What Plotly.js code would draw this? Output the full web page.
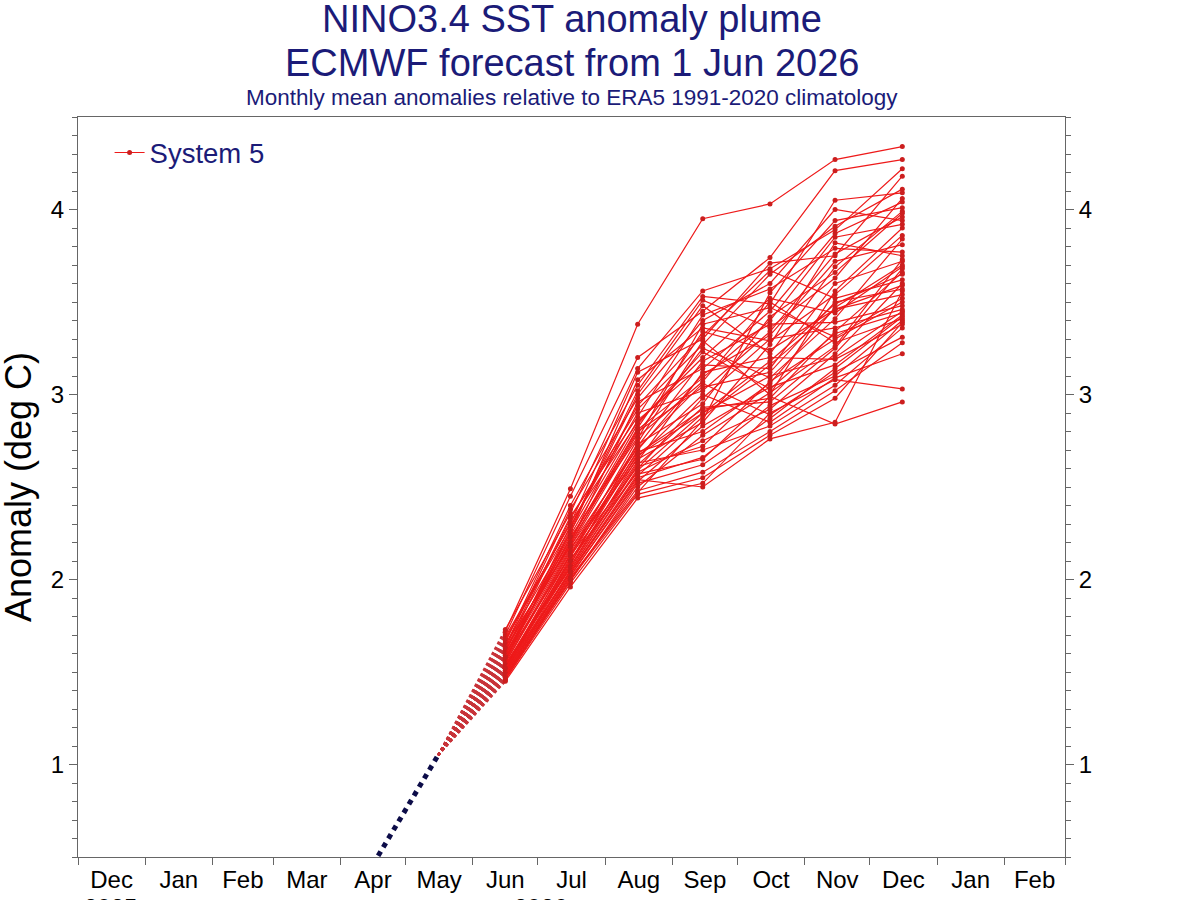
<!DOCTYPE html>
<html>
<head>
<meta charset="utf-8">
<script src="https://cdn.plot.ly/plotly-3.0.1.min.js"></script>
<style>
html,body{margin:0;padding:0;background:#fff;}
#chart{width:1200px;height:900px;}
</style>
</head>
<body>
<div id="chart"></div>
<script>
// ---- Data ----
const forecastMonths = ["2026-06-16","2026-07-16","2026-08-16","2026-09-15","2026-10-16","2026-11-15","2026-12-16"];
const obsMonths = ["2026-04-16","2026-05-16"];
const obsValues = [0.46, 1.05];
const legendName = "System 5";
const titleLine1 = "NINO3.4 SST anomaly plume";
const titleLine2 = "ECMWF forecast from 1 Jun 2026";
const titleLine3 = "Monthly mean anomalies relative to ERA5 1991-2020 climatology";
const yTitle = "Anomaly (deg C)";
const yearLabels = ["2025","2026"];
const yearPositions = ["2025-12-16","2026-07-02"];

// Ensemble members: Jun, Jul, Aug, Sep, Oct, Nov, Dec
const members = [
  [1.72, 2.49, 3.38, 3.95, 4.03, 4.27, 4.34],
  [1.70, 2.45, 3.20, 3.45, 3.74, 4.21, 4.27],
  [1.73, 2.36, 3.14, 3.56, 3.68, 3.89, 4.22],
  [1.66, 2.40, 3.05, 3.53, 3.49, 4.05, 4.09],
  [1.69, 2.30, 3.12, 3.30, 3.71, 3.75, 4.18],
  [1.64, 2.38, 2.98, 3.40, 3.60, 4.00, 3.94],
  [1.68, 2.28, 3.02, 3.51, 3.36, 3.63, 4.06],
  [1.61, 2.33, 2.92, 3.27, 3.65, 3.91, 4.11],
  [1.65, 2.25, 3.08, 3.36, 3.29, 3.54, 3.86],
  [1.63, 2.34, 2.88, 3.43, 3.57, 3.79, 3.77],
  [1.60, 2.20, 2.96, 3.14, 3.45, 3.87, 4.04],
  [1.67, 2.31, 2.85, 3.20, 3.52, 3.44, 3.69],
  [1.59, 2.27, 3.00, 3.48, 3.22, 3.69, 3.99],
  [1.62, 2.22, 2.81, 3.09, 3.40, 3.85, 3.92],
  [1.57, 2.29, 2.94, 3.32, 3.67, 3.52, 3.62],
  [1.65, 2.18, 2.79, 3.25, 3.09, 3.41, 3.84],
  [1.56, 2.26, 2.90, 3.02, 3.34, 3.76, 3.96],
  [1.58, 2.13, 2.76, 3.38, 3.47, 3.31, 3.52],
  [1.61, 2.24, 2.86, 3.16, 3.14, 3.60, 3.72],
  [1.55, 2.16, 2.73, 2.95, 3.42, 3.66, 3.98],
  [1.63, 2.21, 2.84, 3.23, 3.03, 3.33, 3.44],
  [1.54, 2.10, 2.70, 3.11, 3.32, 3.72, 3.81],
  [1.60, 2.19, 2.82, 3.34, 3.24, 3.46, 3.59],
  [1.52, 2.14, 2.67, 2.90, 3.18, 3.49, 3.65],
  [1.57, 2.23, 2.77, 3.07, 3.50, 3.28, 3.41],
  [1.53, 2.08, 2.74, 3.29, 3.00, 3.56, 3.90],
  [1.56, 2.17, 2.65, 2.85, 3.27, 3.82, 3.75],
  [1.50, 2.12, 2.72, 3.18, 3.38, 3.39, 3.48],
  [1.54, 2.06, 2.62, 2.93, 2.96, 3.25, 3.68],
  [1.59, 2.20, 2.80, 3.04, 3.12, 3.50, 3.57],
  [1.51, 2.09, 2.64, 3.12, 3.20, 3.19, 3.38],
  [1.55, 2.15, 2.69, 2.80, 3.06, 3.47, 3.70],
  [1.49, 2.05, 2.60, 2.98, 3.30, 3.36, 3.46],
  [1.52, 2.11, 2.58, 2.75, 2.92, 3.22, 3.60],
  [1.58, 2.18, 2.71, 3.06, 2.89, 3.12, 3.31],
  [1.48, 2.03, 2.56, 2.88, 3.16, 3.46, 3.54],
  [1.50, 2.07, 2.66, 3.00, 2.85, 3.09, 3.22],
  [1.53, 2.13, 2.61, 2.72, 3.07, 3.30, 3.50],
  [1.47, 2.02, 2.53, 2.83, 3.04, 3.16, 3.43],
  [1.51, 2.10, 2.68, 2.92, 2.98, 3.34, 3.66],
  [1.49, 2.04, 2.55, 2.66, 2.94, 3.10, 3.40],
  [1.46, 2.00, 2.50, 2.78, 3.01, 3.26, 3.73],
  [1.54, 2.07, 2.63, 2.70, 2.83, 3.05, 3.36],
  [1.48, 1.99, 2.52, 2.62, 2.87, 3.14, 3.42],
  [1.47, 2.01, 2.48, 2.58, 2.80, 3.02, 3.28],
  [1.50, 2.05, 2.59, 2.90, 3.10, 3.20, 3.45],
  [1.46, 1.98, 2.46, 2.55, 2.78, 2.98, 3.39],
  [1.45, 1.96, 2.44, 2.52, 2.90, 3.08, 3.03],
  [1.49, 2.02, 2.54, 2.50, 2.76, 2.85, 3.56],
  [1.52, 2.04, 2.57, 2.65, 2.99, 2.84, 2.96],
  [1.47, 2.00, 2.47, 2.86, 3.55, 3.94, 4.01]
];

// ---- Styles ----
const navy = "#1b1b78";
const lineRed = "#ee1a1a";
const markRed = "#cc1e1e";
const axisGrey = "#666666";
const fontFam = "Liberation Sans, Arial, Helvetica, sans-serif";

const traces = [];

// dotted connectors from last observed month to first forecast month
const cx = [], cy = [];
members.forEach(m => {
  cx.push(obsMonths[1], forecastMonths[0], null);
  cy.push(obsValues[1], m[0], null);
});
traces.push({
  x: cx, y: cy, mode: "lines", type: "scatter",
  line: {color: "#c8343a", width: 2, dash: "dot"},
  showlegend: false, hoverinfo: "skip", connectgaps: false
});

// observed
traces.push({
  x: obsMonths, y: obsValues, mode: "lines", type: "scatter",
  line: {color: "#0c0c48", width: 5, dash: "dot"},
  showlegend: false, hoverinfo: "skip"
});

// same observed values on the right-hand axis (invisible) so that axis is drawn
traces.push({
  x: obsMonths, y: obsValues, mode: "lines", type: "scatter", yaxis: "y2",
  line: {color: "rgba(0,0,0,0)", width: 0},
  showlegend: false, hoverinfo: "skip"
});

// ensemble members
members.forEach((m, i) => {
  traces.push({
    x: forecastMonths, y: m, mode: "lines+markers", type: "scatter",
    name: legendName,
    line: {color: lineRed, width: 1.2},
    marker: {color: markRed, size: 5},
    showlegend: i === 0,
    hoverinfo: "skip"
  });
});

const plotL = 78, plotR = 1065, plotT = 117, plotB = 857;
const pw = plotR - plotL, ph = plotB - plotT;

const yAxisCommon = {
  range: [0.5, 4.5],
  tickmode: "array",
  tickvals: [1, 2, 3, 4],
  ticks: "outside",
  ticklen: 8,
  tickwidth: 1,
  tickcolor: axisGrey,
  showline: true,
  linecolor: axisGrey,
  linewidth: 1,
  showgrid: false,
  zeroline: false,
  tickfont: {family: fontFam, size: 24, color: "#000"},
  minor: {dtick: 0.1, tick0: 0, ticks: "outside", ticklen: 5, tickcolor: axisGrey, showgrid: false},
  fixedrange: true
};

const layout = {
  width: 1200, height: 900,
  paper_bgcolor: "#ffffff", plot_bgcolor: "#ffffff",
  margin: {l: plotL, r: 1200 - plotR, t: plotT, b: 900 - plotB, pad: 0},
  showlegend: true,
  legend: {
    x: 0.032, y: 0.985, xanchor: "left", yanchor: "top",
    bgcolor: "rgba(255,255,255,0)",
    font: {family: fontFam, size: 27.5, color: navy},
    itemwidth: 30
  },
  xaxis: {
    type: "date",
    range: ["2025-12-01", "2027-03-01"],
    tick0: "2025-12-01",
    dtick: "M1",
    tickformat: "%b",
    ticklabelmode: "period",
    ticks: "outside",
    ticklen: 7,
    ticklabelstandoff: -6,
    tickcolor: axisGrey,
    showline: true,
    linecolor: axisGrey,
    linewidth: 1,
    mirror: true,
    showgrid: false,
    zeroline: false,
    tickfont: {family: fontFam, size: 24, color: "#000"},
    fixedrange: true
  },
  yaxis: Object.assign({}, yAxisCommon, {side: "left"}),
  yaxis2: Object.assign({}, yAxisCommon, {side: "right", overlaying: "y", anchor: "x"}),
  annotations: [
    {text: titleLine1, xref: "paper", yref: "paper", x: 0.5, y: 1 + (plotT - 19) / ph, xanchor: "center", yanchor: "middle", showarrow: false, font: {family: fontFam, size: 38, color: navy}},
    {text: titleLine2, xref: "paper", yref: "paper", x: 0.5, y: 1 + (plotT - 63) / ph, xanchor: "center", yanchor: "middle", showarrow: false, font: {family: fontFam, size: 38, color: navy}},
    {text: titleLine3, xref: "paper", yref: "paper", x: 0.5, y: 1 + (plotT - 97) / ph, xanchor: "center", yanchor: "middle", showarrow: false, font: {family: fontFam, size: 22.5, color: navy}},
    {text: yTitle, xref: "paper", yref: "paper", x: (18 - plotL) / pw, y: 0.5, xanchor: "center", yanchor: "middle", textangle: -90, showarrow: false, font: {family: fontFam, size: 36, color: "#000"}},
    {text: yearLabels[0], xref: "x", yref: "paper", x: yearPositions[0], y: -(892 - plotB) / ph, xanchor: "center", yanchor: "top", showarrow: false, font: {family: fontFam, size: 24, color: "#000"}},
    {text: yearLabels[1], xref: "x", yref: "paper", x: yearPositions[1], y: -(892 - plotB) / ph, xanchor: "center", yanchor: "top", showarrow: false, font: {family: fontFam, size: 24, color: "#000"}}
  ]
};

Plotly.newPlot("chart", traces, layout, {staticPlot: true, displayModeBar: false});
</script>
</body>
</html>
